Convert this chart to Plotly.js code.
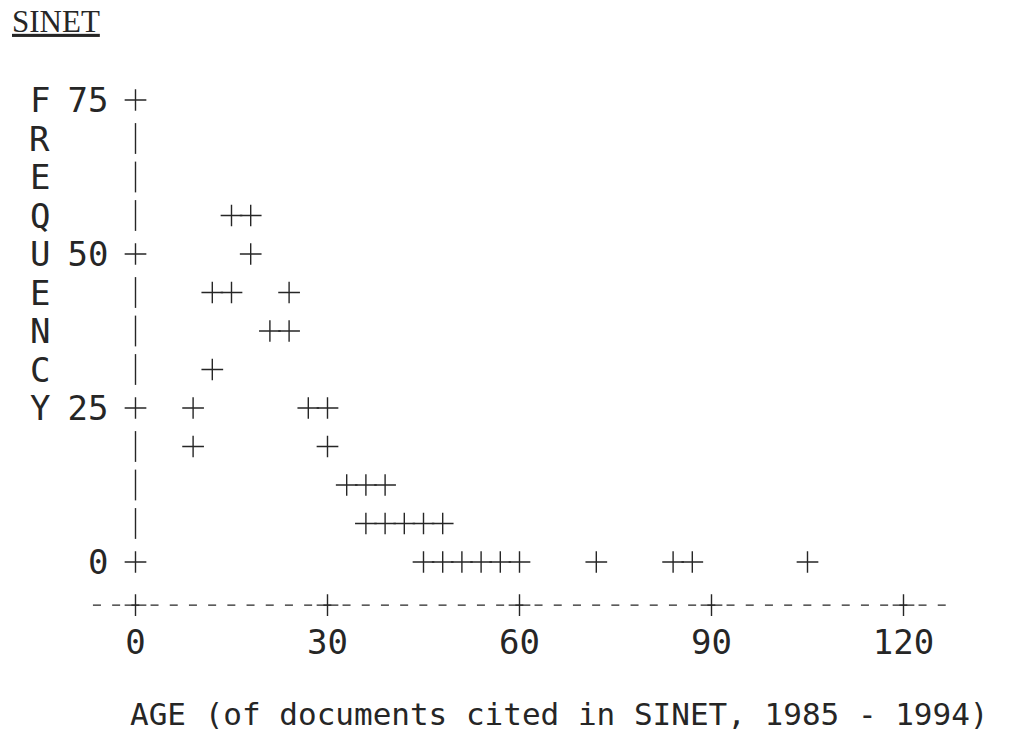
<!DOCTYPE html>
<html><head><meta charset="utf-8">
<script src="https://cdn.plot.ly/plotly-3.0.1.min.js"></script>
<style>html,body{margin:0;padding:0;background:#fff;}#chart{width:1016px;height:737px;}</style>
</head><body><div id="chart"></div>
<script>
// ---- chart content ----
const chartTitle = 'SINET';
const xTitleText = 'AGE (of documents cited in SINET, 1985 - 1994)';
const yTitleLetters = 'FREQUENCY';
const xTickVals = [0, 30, 60, 90, 120];
const xTickText = ['0', '30', '60', '90', '120'];
const yTickVals = [0, 25, 50, 75];
const yTickText = ['0', '25', '50', '75'];

// ---- data (age, frequency) ----
const age = [15, 18, 18, 12, 15, 24, 21, 24, 12, 9, 27, 30, 9, 30,
             33, 36, 39, 36, 39, 42, 45, 48,
             45, 48, 51, 54, 57, 60, 72, 84, 87, 105];
const frequency = [56.25, 56.25, 50, 43.75, 43.75, 43.75, 37.5, 37.5, 31.25, 25, 25, 25, 18.75, 18.75,
                   12.5, 12.5, 12.5, 6.25, 6.25, 6.25, 6.25, 6.25,
                   0, 0, 0, 0, 0, 0, 0, 0, 0, 0];

// ---- printer-grid geometry ----
const rowStep = 6.25;     // vertical resolution of one print row
const colStep = 3;        // horizontal resolution of one print column
const xAxisRow = -7;      // level where the horizontal axis is printed
const ink = '#262626';
const monoFont = 'DejaVu Sans Mono, Liberation Mono, monospace';

const xRange = [-7.109375, 128.828125];
const yRange = [-15.909, 79.870];

const plus = {symbol: 'cross-thin-open', size: 15.5, color: ink, line: {width: 1.4, color: ink}};

const traces = [
  {type: 'scatter', mode: 'markers', x: age, y: frequency, marker: plus, hoverinfo: 'x+y', showlegend: false},
  {type: 'scatter', mode: 'markers', x: yTickVals.map(() => 0), y: yTickVals, marker: plus, hoverinfo: 'skip', showlegend: false},
  {type: 'scatter', mode: 'markers', x: xTickVals, y: xTickVals.map(() => xAxisRow), marker: plus, hoverinfo: 'skip', showlegend: false}
];

const shapes = [];
// vertical axis printed as "|" characters on rows between the ticks
for (let r = 0; r <= 75 + 1e-9; r += rowStep) {
  if (yTickVals.some(t => Math.abs(t - r) < 1e-6)) continue;
  shapes.push({type: 'line', xref: 'x', yref: 'y', x0: 0, x1: 0, y0: r - 2.5, y1: r + 2.5,
               line: {color: ink, width: 1.4}});
}
// horizontal axis printed as "-" characters, one per column
const colPx = 870 / (xRange[1] - xRange[0]) * colStep;
shapes.push({type: 'line', xref: 'x', yref: 'y',
             x0: xTickVals[0] - 2 * colStep - 0.65, x1: xTickVals[xTickVals.length - 1] + 2 * colStep + 0.65,
             y0: xAxisRow, y1: xAxisRow,
             line: {color: ink, width: 1.4, dash: '8px,' + (colPx - 8).toFixed(2) + 'px'}});

const annotations = [];
yTitleLetters.split('').forEach((ch, i) => {
  annotations.push({text: ch, xref: 'paper', x: -0.0575, yref: 'y', y: 75 - i * rowStep,
                    showarrow: false, xanchor: 'center', yanchor: 'middle',
                    font: {family: monoFont, size: 34, color: ink}});
});
annotations.push({text: xTitleText, xref: 'paper', x: 0.54, yref: 'paper', y: -0.092,
                  showarrow: false, xanchor: 'center', yanchor: 'middle',
                  font: {family: monoFont, size: 31, color: ink}});

const layout = {
  width: 1016, height: 737,
  margin: {l: 90, r: 56, t: 70, b: 77},
  paper_bgcolor: '#fff', plot_bgcolor: '#fff',
  title: {text: '<u>' + chartTitle + '</u>', xref: 'container', yref: 'container',
          x: 12 / 1016, xanchor: 'left', y: 1 - 21 / 737, yanchor: 'middle',
          font: {family: 'Liberation Serif, Times New Roman, serif', size: 31, color: ink}},
  xaxis: {range: xRange, anchor: 'free', position: (xAxisRow - yRange[0]) / (yRange[1] - yRange[0]),
          tickvals: xTickVals, ticktext: xTickText, ticks: '', showline: false, showgrid: false, zeroline: false,
          ticklabelstandoff: 14, tickfont: {family: monoFont, size: 34, color: ink}},
  yaxis: {range: yRange, anchor: 'free', position: (0 - xRange[0]) / (xRange[1] - xRange[0]),
          tickvals: yTickVals, ticktext: yTickText, ticks: '', showline: false, showgrid: false, zeroline: false,
          ticklabelstandoff: 27, tickfont: {family: monoFont, size: 34, color: ink}},
  shapes: shapes,
  annotations: annotations
};

Plotly.newPlot('chart', traces, layout, {displayModeBar: false, staticPlot: true});
</script>
</body></html>
